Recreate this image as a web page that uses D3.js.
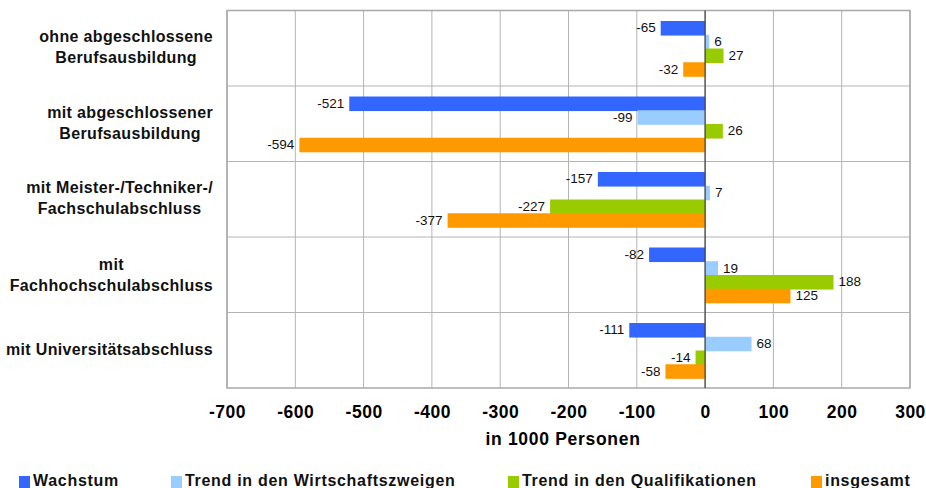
<!DOCTYPE html>
<html>
<head>
<meta charset="utf-8">
<script src="https://cdn.jsdelivr.net/npm/d3@7"></script>
<style>
  body { margin: 0; background: white; }
  svg { font-family: "Liberation Sans", Arial, sans-serif; }
</style>
</head>
<body>
<svg></svg>
<script>
var categories = [
  ["ohne abgeschlossene", "Berufsausbildung"],
  ["mit abgeschlossener", "Berufsausbildung"],
  ["mit Meister-/Techniker-/", "Fachschulabschluss"],
  ["mit", "Fachhochschulabschluss"],
  ["mit Universitätsabschluss"]
];
var seriesNames = ["Wachstum", "Trend in den Wirtschaftszweigen", "Trend in den Qualifikationen", "insgesamt"];
var wachstum = [-65, -521, -157, -82, -111];
var trendWirtschaft = [6, -99, 7, 19, 68];
var trendQuali = [27, 26, -227, 188, -14];
var insgesamt = [-32, -594, -377, 125, -58];
var xTicks = [-700, -600, -500, -400, -300, -200, -100, 0, 100, 200, 300];
var colors = ["#3366ff", "#99ccff", "#99cc00", "#ff9900"];

var allSeries = [wachstum, trendWirtschaft, trendQuali, insgesamt];

var svgWidth = 926, svgHeight = 488;
var plotLeft = 227, plotRight = 910, plotTop = 10.5, plotBottom = 388;

var svg = d3.select("svg")
    .attr("width", svgWidth)
    .attr("height", svgHeight);

var xScale = d3.scaleLinear()
    .domain([-700, 300])
    .range([plotLeft, plotRight]);

var yScale = d3.scaleBand()
    .domain(d3.range(categories.length))
    .range([plotTop, plotBottom]);

var inner = d3.scaleBand()
    .domain(d3.range(seriesNames.length))
    .range([10.5, 65.5]);

// grid
svg.append("g").selectAll("line")
    .data(xTicks)
    .enter().append("line")
    .attr("x1", d => xScale(d)).attr("x2", d => xScale(d))
    .attr("y1", plotTop).attr("y2", plotBottom)
    .style("stroke", "#b4b4b4")
    .style("stroke-width", 1);

svg.append("g").selectAll("line")
    .data(d3.range(1, categories.length))
    .enter().append("line")
    .attr("x1", plotLeft).attr("x2", plotRight)
    .attr("y1", d => yScale(d)).attr("y2", d => yScale(d))
    .style("stroke", "#b4b4b4")
    .style("stroke-width", 1);

svg.append("rect")
    .attr("x", plotLeft).attr("y", plotTop)
    .attr("width", plotRight - plotLeft).attr("height", plotBottom - plotTop)
    .attr("fill", "none")
    .style("stroke", "#a8a8a8")
    .style("stroke-width", 1.5);

// bars
allSeries.forEach(function(values, s) {
  var g = svg.append("g");
  g.selectAll("rect")
    .data(values)
    .enter().append("rect")
    .attr("x", d => xScale(Math.min(0, d)))
    .attr("width", d => Math.abs(xScale(d) - xScale(0)))
    .attr("y", (d, i) => yScale(i) + inner(s))
    .attr("height", inner.bandwidth() + 0.8)
    .attr("fill", colors[s]);

  g.selectAll("text")
    .data(values)
    .enter().append("text")
    .attr("x", d => d < 0 ? xScale(d) - 5 : xScale(d) + 5)
    .attr("y", (d, i) => yScale(i) + inner(s) + inner.bandwidth() / 2 + 4.5)
    .attr("text-anchor", d => d < 0 ? "end" : "start")
    .style("font-size", "13.5px")
    .style("fill", "#111")
    .text(d => d);
});

// zero line
svg.append("line")
    .attr("x1", xScale(0)).attr("x2", xScale(0))
    .attr("y1", plotTop).attr("y2", plotBottom)
    .style("stroke", "#404040")
    .style("stroke-width", 1.2);

// x axis labels
var x_axis = d3.axisBottom(xScale)
    .tickValues(xTicks)
    .tickFormat(d => String(d))
    .tickSize(0)
    .tickPadding(0);

var axisG = svg.append("g")
    .attr("transform", "translate(0, 406)")
    .call(x_axis);
axisG.select(".domain").remove();
axisG.selectAll("text")
    .style("font-family", "'Liberation Sans', Arial, sans-serif")
    .style("font-size", "17.5px")
    .style("font-weight", "bold")
    .style("letter-spacing", "0.5px")
    .style("fill", "#000");

svg.append("text")
    .attr("x", 563)
    .attr("y", 445)
    .attr("text-anchor", "middle")
    .style("font-size", "17.5px")
    .style("font-weight", "bold")
    .style("letter-spacing", "0.7px")
    .text("in 1000 Personen");

// category labels: lines centred on each other, block right-aligned at 213
var labelRight = 213;
categories.forEach(function(lines, i) {
  var cy = yScale(i) + yScale.bandwidth() / 2;
  var t = svg.append("text")
    .attr("text-anchor", "middle")
    .style("font-size", "16px")
    .style("font-weight", "bold")
    .style("letter-spacing", "0.35px")
    .style("fill", "#111");
  var spans;
  if (lines.length == 1) {
    spans = [t.append("tspan").attr("y", cy + 5).text(lines[0])];
  } else {
    var off = lines[0].length < 5 ? -4.75 : -6;
    spans = [
      t.append("tspan").attr("y", cy + off).text(lines[0]),
      t.append("tspan").attr("y", cy + off + 21).text(lines[1])
    ];
  }
  var w = d3.max(spans, s => s.node().getComputedTextLength());
  spans.forEach(s => s.attr("x", labelRight - w / 2));
});

// legend
var legendX = [19, 171, 508, 811];
var legend = svg.append("g").selectAll("g")
    .data(seriesNames)
    .enter().append("g")
    .attr("transform", (d, i) => "translate(" + legendX[i] + ", 476)");
legend.append("rect")
    .attr("width", 11).attr("height", 12)
    .attr("fill", (d, i) => colors[i]);
legend.append("text")
    .attr("x", 14)
    .attr("y", 10)
    .style("font-size", "16px")
    .style("font-weight", "bold")
    .style("letter-spacing", "0.7px")
    .style("fill", "#111")
    .text(d => d);
</script>
</body>
</html>
